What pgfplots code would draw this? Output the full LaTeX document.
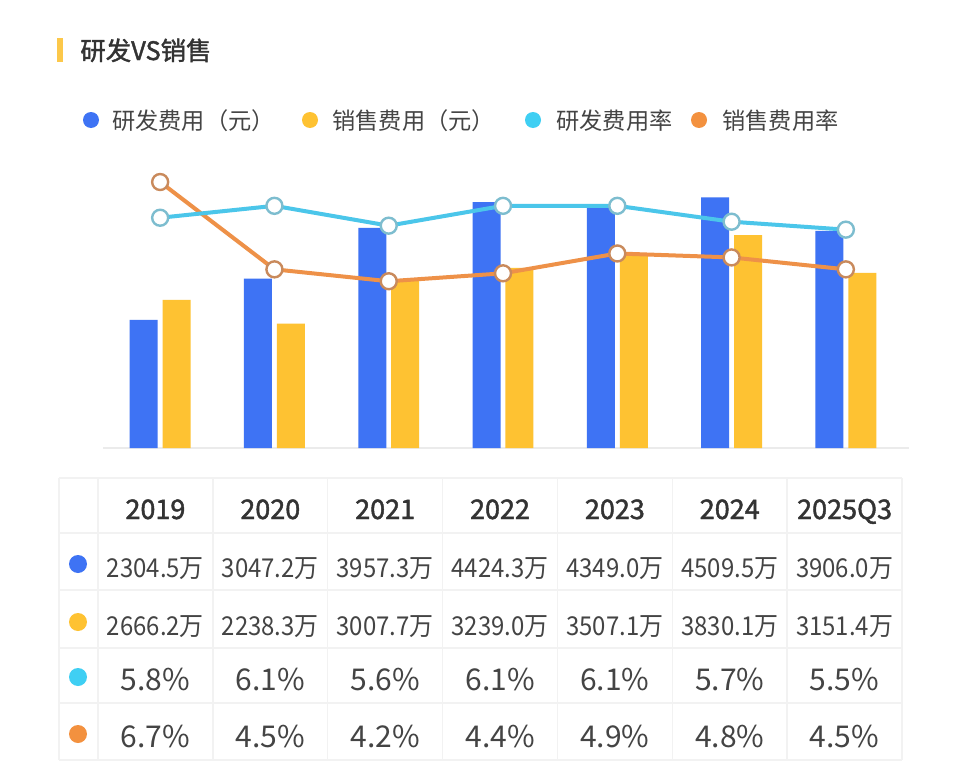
\documentclass[border=0pt]{standalone}
\usepackage{pgfplots}
\pgfplotsset{compat=1.18}
\usepackage{fontspec}
\setmainfont{Noto Sans CJK SC}
\newfontfamily\semibold[FakeBold=1.6]{Noto Sans CJK SC}
\usepackage{graphicx}

\definecolor{rdblue}{HTML}{3E73F4}
\definecolor{rdyellow}{HTML}{FEC232}
\definecolor{rdcyan}{HTML}{4BC6EA}
\definecolor{rdorange}{HTML}{EE9148}
\definecolor{cyanedge}{HTML}{7DBDCF}
\definecolor{orangeedge}{HTML}{C98A5C}
\definecolor{dotcyan}{HTML}{3FCFF3}
\definecolor{dotorange}{HTML}{F3913F}
\definecolor{titlebar}{HTML}{FCC84A}
\definecolor{txtdark}{HTML}{333333}
\definecolor{txtmid}{HTML}{444444}
\definecolor{gridgray}{HTML}{F2F2F2}
\definecolor{basegray}{HTML}{EBEBEB}

% 1px of the reference = 0.5bp, y grows downwards
\begin{document}
\begin{tikzpicture}[x=0.5bp,y=-0.5bp]
\fill[white] (0,0) rectangle (960,781);
\path[use as bounding box] (0,0) rectangle (960,781);

% title
\fill[titlebar] (57,38) rectangle (63,62);
\node[anchor=base west, inner sep=0, text=txtdark,
      font=\fontsize{12.7bp}{14bp}\semibold] at (80,60) {研发VS销售};

% legend
\fill[rdblue]    (91,120)  circle (8);
\fill[rdyellow]  (310,120) circle (8);
\fill[dotcyan]   (533,120) circle (8);
\fill[dotorange] (699,120) circle (8);
\begin{scope}[every node/.style={anchor=base west, inner sep=0, text=txtmid,
      font=\fontsize{11.6bp}{13bp}\selectfont}]
\node at (112,129) {研发费用（元）};
\node at (332,129) {销售费用（元）};
\node at (556,129) {研发费用率};
\node at (722,129) {销售费用率};
\end{scope}

% bars
\begin{axis}[at={(51.5bp,-224bp)}, anchor=south west, scale only axis,
    width=400bp, height=144bp,
    xmin=-0.5, xmax=6.5, ymin=0, ymax=5180,
    hide axis, clip=false, ybar, bar width=0.245]
\draw[basegray, line width=1bp] (axis cs:-0.5,0) -- (axis cs:6.55,0);
\addplot[draw=none, fill=rdblue, bar shift=-0.144] coordinates {
  (0,2304.5) (1,3047.2) (2,3957.3) (3,4424.3) (4,4349.0) (5,4509.5) (6,3906.0)};
\addplot[draw=none, fill=rdyellow, bar shift=0.144] coordinates {
  (0,2666.2) (1,2238.3) (2,3007.7) (3,3239.0) (4,3507.1) (5,3830.1) (6,3151.4)};
\end{axis}

% rates
\begin{axis}[at={(51.5bp,-224bp)}, anchor=south west, scale only axis,
    width=400bp, height=144bp,
    xmin=-0.5, xmax=6.5, ymin=0, ymax=7.254,
    hide axis, clip=false]
\addplot[rdorange, line width=2bp, mark=*, mark size=4bp,
    mark options={fill=white, draw=orangeedge, line width=1.2bp}] coordinates {
  (0,6.7) (1,4.5) (2,4.2) (3,4.4) (4,4.9) (5,4.8) (6,4.5)};
\addplot[rdcyan, line width=2bp, mark=*, mark size=4bp,
    mark options={fill=white, draw=cyanedge, line width=1.2bp}] coordinates {
  (0,5.8) (1,6.1) (2,5.6) (3,6.1) (4,6.1) (5,5.7) (6,5.5)};
\end{axis}

% table grid
\begin{scope}[gridgray, line width=0.75bp]
\foreach \y in {478,533,590,648,703,760} \draw (59,\y) -- (902,\y);
\draw (59,478) -- (59,760);
\foreach \k in {0,...,7} \draw ({98+114.86*\k},478) -- ({98+114.86*\k},760);
\end{scope}

% table dots
\fill[rdblue]    (78,564) circle (9);
\fill[rdyellow]  (78,622) circle (9);
\fill[dotcyan]   (78,677) circle (9);
\fill[dotorange] (78,734) circle (9);

% table text
\foreach \t [count=\i from 0] in {2019,2020,2021,2022,2023,2024,2025Q3}
  \node[anchor=base, inner sep=0, text=txtdark,
        font=\fontsize{13.5bp}{15bp}\semibold]
        at ({98+114.86*(\i+0.5)},519) {\t};
\foreach \t [count=\i from 0] in {2304.5万,3047.2万,3957.3万,4424.3万,4349.0万,4509.5万,3906.0万}
  \node[anchor=base, inner sep=0, text=txtmid,
        font=\fontsize{13bp}{15bp}\selectfont]
        at ({98+114.86*(\i+0.5)},577) {\scalebox{0.92}[1]{\t}};
\foreach \t [count=\i from 0] in {2666.2万,2238.3万,3007.7万,3239.0万,3507.1万,3830.1万,3151.4万}
  \node[anchor=base, inner sep=0, text=txtmid,
        font=\fontsize{13bp}{15bp}\selectfont]
        at ({98+114.86*(\i+0.5)},635) {\scalebox{0.92}[1]{\t}};
\foreach \t [count=\i from 0] in {5.8,6.1,5.6,6.1,6.1,5.7,5.5}
  \node[anchor=base, inner sep=0, text=txtmid,
        font=\fontsize{15bp}{17bp}\selectfont]
        at ({98+114.86*(\i+0.5)},690) {\t\%};
\foreach \t [count=\i from 0] in {6.7,4.5,4.2,4.4,4.9,4.8,4.5}
  \node[anchor=base, inner sep=0, text=txtmid,
        font=\fontsize{15bp}{17bp}\selectfont]
        at ({98+114.86*(\i+0.5)},747) {\t\%};
\end{tikzpicture}
\end{document}
